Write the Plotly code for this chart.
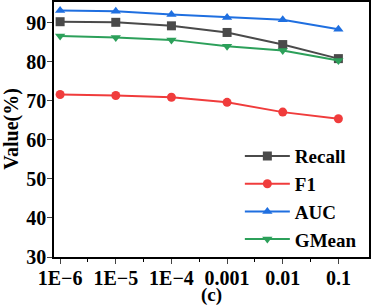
import plotly.graph_objects as go

x_labels = ["1E\u22126", "1E\u22125", "1E\u22124", "0.001", "0.01", "0.1"]
recall = [90.25, 90.1, 89.2, 87.5, 84.4, 80.8]
f1 = [71.6, 71.35, 70.9, 69.6, 67.1, 65.4]
auc = [93.1, 92.9, 92.1, 91.35, 90.75, 88.3]
gmean = [86.6, 86.2, 85.6, 84.0, 82.9, 80.3]
y_ticks = [30, 40, 50, 60, 70, 80, 90]

series = [
    ("Recall", recall, "#4a4a4a", "square"),
    ("F1", f1, "#f03c3c", "circle"),
    ("AUC", auc, "#1f6fe0", "triangle-up"),
    ("GMean", gmean, "#2ca05a", "triangle-down"),
]

font = "Liberation Serif"
fig = go.Figure()
xs = list(range(len(x_labels)))
for name, vals, col, sym in series:
    fig.add_trace(go.Scatter(
        x=xs, y=vals, name="<b>%s</b>" % name, mode="lines+markers",
        line=dict(color=col, width=2),
        marker=dict(symbol=sym, size=9, color=col),
    ))

fig.update_layout(
    width=374, height=307,
    margin=dict(l=54, r=5, t=2, b=50),
    paper_bgcolor="white", plot_bgcolor="white",
    font=dict(family=font, size=20, color="black"),
    showlegend=True,
    legend=dict(x=0.59, y=0.47, xanchor="left", yanchor="top",
                bgcolor="rgba(0,0,0,0)", font=dict(family=font, size=19, color="black"),
                tracegroupgap=0, itemwidth=45),
    xaxis=dict(
        range=[-0.11, 5.55], tickmode="array", tickvals=xs,
        ticktext=["<b>%s</b>" % t for t in x_labels],
        showline=True, linecolor="black", linewidth=1.5, mirror=True,
        ticks="outside", ticklen=5, tickwidth=1.2, showgrid=False, zeroline=False,
        tickfont=dict(family=font, size=20, color="black"),
        ticklabelstandoff=-3,
        minor=dict(tickvals=[x + 0.5 for x in xs[:-1]], ticks="outside", ticklen=3, tickwidth=1, tickcolor="black"),
        automargin=False,
    ),
    yaxis=dict(
        range=[30, 95.3], tickmode="array", tickvals=y_ticks,
        ticktext=["<b>%d</b>" % v for v in y_ticks],
        showline=True, linecolor="black", linewidth=1.5, mirror=True,
        ticks="outside", ticklen=5, tickwidth=1.2, showgrid=False, zeroline=False,
        tickfont=dict(family=font, size=20, color="black"),
        ticklabelstandoff=-3,
        automargin=False,
    ),
    annotations=[
        dict(text="<b>(c)</b>", xref="paper", yref="paper", x=0.5, y=-0.148,
             xanchor="center", yanchor="middle", showarrow=False,
             font=dict(family=font, size=19, color="black")),
        dict(text="<b>Value(%)</b>", xref="paper", yref="paper", x=-0.136, y=0.5,
             xanchor="center", yanchor="middle", showarrow=False, textangle=-90,
             font=dict(family=font, size=20, color="black")),
    ],
)

fig.write_html("out.html", config={"displayModeBar": False},
               post_script="document.body.style.margin='0';document.body.style.padding='0';")
